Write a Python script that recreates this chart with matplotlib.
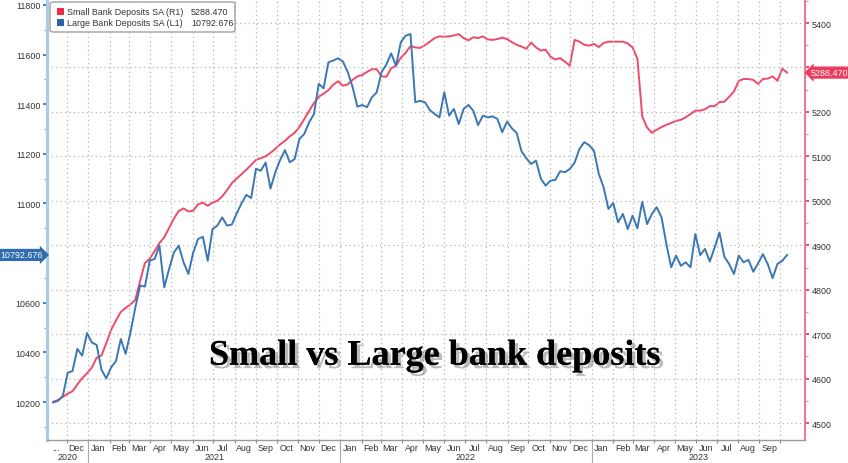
import matplotlib
matplotlib.use('Agg')
import matplotlib.pyplot as plt
import matplotlib.dates as mdates
import matplotlib.patheffects as pe
from matplotlib.patches import FancyBboxPatch, Rectangle
from matplotlib.ticker import FixedLocator, NullFormatter, MultipleLocator
from matplotlib.transforms import blended_transform_factory
import pandas as pd

# ---------------- data ----------------
start_date = '2020-11-11'   # weekly (Wednesday) observations

large_bank = [
    10198, 10205, 10225, 10318, 10325, 10414, 10387, 10478, 10440, 10430,
    10330, 10295, 10340, 10365, 10454, 10394, 10480, 10580, 10670, 10665,
    10770, 10776, 10830, 10662, 10736, 10803, 10830, 10763, 10716, 10803,
    10857, 10866, 10769, 10897, 10911, 10944, 10911, 10915, 10960, 11000,
    11035, 11022, 11140, 11132, 11165, 11060, 11126, 11175, 11215, 11166,
    11179, 11260, 11280, 11327, 11360, 11482, 11464, 11569, 11576, 11585,
    11572, 11530, 11470, 11390, 11397, 11388, 11428, 11448, 11529, 11560,
    11605, 11555, 11650, 11676, 11683, 11408, 11414, 11408, 11376, 11361,
    11347, 11448, 11354, 11381, 11320, 11381, 11397, 11374, 11316, 11354,
    11347, 11351, 11341, 11287, 11330, 11303, 11284, 11210, 11182, 11159,
    11173, 11100, 11072, 11092, 11095, 11130, 11126, 11139, 11165, 11220,
    11247, 11235, 11213, 11120, 11065, 10978, 11002, 10924, 10958, 10897,
    10951, 10900, 11007, 10917, 10958, 10985, 10944, 10837, 10743, 10790,
    10749, 10763, 10743, 10877, 10792, 10817, 10766, 10823, 10883, 10786,
    10756, 10716, 10790, 10763, 10773, 10725, 10759, 10796, 10756, 10699,
    10756, 10769, 10792.676,
]

small_bank = [
    4548, 4552, 4559, 4566, 4572, 4587, 4601, 4612, 4625, 4647,
    4652, 4680, 4710, 4731, 4750, 4759, 4767, 4777, 4820, 4860,
    4870, 4887, 4905, 4918, 4939, 4960, 4977, 4983, 4976, 4978,
    4992, 4996, 4989, 4996, 5000, 5010, 5024, 5040, 5050, 5060,
    5070, 5081, 5092, 5096, 5100, 5108, 5117, 5127, 5135, 5145,
    5153, 5166, 5184, 5202, 5220, 5234, 5241, 5249, 5261, 5269,
    5259, 5262, 5272, 5280, 5283, 5290, 5296, 5296, 5280, 5279,
    5298, 5304, 5322, 5333, 5348, 5345, 5344, 5350, 5358, 5366,
    5370, 5369, 5370, 5372, 5375, 5366, 5361, 5368, 5366, 5370,
    5363, 5362, 5364, 5367, 5364, 5357, 5351, 5347, 5342, 5356,
    5345, 5338, 5340, 5324, 5318, 5321, 5313, 5304, 5362, 5358,
    5351, 5349, 5353, 5346, 5355, 5358, 5358, 5358, 5358, 5354,
    5345, 5320, 5190, 5165, 5153, 5160, 5166, 5171, 5175, 5180,
    5182, 5188, 5195, 5203, 5203, 5206, 5213, 5213, 5222, 5223,
    5234, 5246, 5270, 5274, 5274, 5272, 5263, 5274, 5275, 5280,
    5270, 5297, 5288.47,
]

small_label = 'Small Bank Deposits SA (R1)'
large_label = 'Large Bank Deposits SA (L1)'
small_last = '5288.470'
large_last = '10792.676'
title_text = 'Small vs Large bank deposits'

month_labels = ['...', 'Dec',
                'Jan', 'Feb', 'Mar', 'Apr', 'May', 'Jun', 'Jul', 'Aug', 'Sep', 'Oct', 'Nov', 'Dec',
                'Jan', 'Feb', 'Mar', 'Apr', 'May', 'Jun', 'Jul', 'Aug', 'Sep', 'Oct', 'Nov', 'Dec',
                'Jan', 'Feb', 'Mar', 'Apr', 'May', 'Jun', 'Jul', 'Aug', 'Sep']
year_labels = ['2020', '2021', '2022', '2023']
left_ticks = [10200, 10400, 10600, 10800, 11000, 11200, 11400, 11600, 11800]
left_ticklabels = ['10200', '10400', '10600', '', '11000', '11200', '11400', '11600', '11800']
right_ticks = [4500, 4600, 4700, 4800, 4900, 5000, 5100, 5200, 5300, 5400]
right_ticklabels = ['4500', '4600', '4700', '4800', '4900', '5000', '5100', '5200', '', '5400']

# ---------------- styling ----------------
RED = '#ef4a68'
BLUE = '#3b78b3'
FONT = 'Liberation Sans'
FS = 6.4
plt.rcParams['font.family'] = [FONT, 'DejaVu Sans']

dates = pd.date_range(start_date, periods=len(large_bank), freq='7D')
x_left = pd.Timestamp('2020-11-02')
x_right = pd.Timestamp('2023-11-06')

W, H = 848, 464
fig = plt.figure(figsize=(W / 100, H / 100), dpi=100)
fig.patch.set_facecolor('white')
ax = fig.add_axes([47 / W, 1 - 441 / H, (805 - 47) / W, 441 / H])
ax2 = ax.twinx()
ax.set_zorder(ax2.get_zorder() + 1)
ax.patch.set_visible(False)
ax2.patch.set_visible(True)
ax2.patch.set_facecolor('white')

ax.plot(dates, large_bank, color=BLUE, lw=1.4, zorder=3)
ax2.plot(dates, small_bank, color=RED, lw=1.4, zorder=3)

ax.set_xlim(x_left, x_right)
ax.set_ylim(10047, 11824)
ax2.set_ylim(4462, 5454)

# y axes
ax.set_yticks(left_ticks)
ax.set_yticklabels(left_ticklabels)
ax.yaxis.set_minor_locator(MultipleLocator(100))
ax.tick_params(axis='y', which='major', length=3, width=1.2, color='#2e6aa8',
               labelsize=FS, labelcolor='#333333', pad=1.5, direction='out')
ax.tick_params(axis='y', which='minor', length=2, width=0.8, color='#7aa6d0', direction='out')

ax2.set_yticks(right_ticks)
ax2.set_yticklabels(right_ticklabels)
ax2.yaxis.set_minor_locator(MultipleLocator(50))
ax2.tick_params(axis='y', which='major', length=3, width=1.2, color='#e8305a',
                labelsize=FS, labelcolor='#333333', pad=1.5, direction='out')
ax2.tick_params(axis='y', which='minor', length=2, width=0.8, color='#f08aa0', direction='out')
ax2.grid(axis='y', which='major', ls=(0, (1, 2.5)), color='#b5b5b5', lw=0.9)

# spines
for s in ['top', 'right']:
    ax.spines[s].set_visible(False)
for s in ['top', 'left', 'bottom']:
    ax2.spines[s].set_visible(False)
ax.spines['left'].set_color('#a9cbe9')
ax.spines['left'].set_linewidth(2.2)
ax.spines['bottom'].set_color('#9a9a9a')
ax.spines['bottom'].set_linewidth(1.0)
ax2.spines['right'].set_color('#f07890')
ax2.spines['right'].set_linewidth(1.5)

# x axis: month boundaries as ticks/grid, month names at mid-month
month_starts = pd.date_range('2020-12-01', '2023-10-01', freq='MS')
ax.xaxis.set_major_locator(FixedLocator(mdates.date2num(month_starts)))
ax.xaxis.set_major_formatter(NullFormatter())
label_pos = pd.date_range('2020-11-01', periods=len(month_labels), freq='MS') + pd.Timedelta(days=14)
ax.set_xticks(mdates.date2num(label_pos), minor=True)
ax.set_xticklabels(month_labels, minor=True)
ax.tick_params(axis='x', which='major', length=2.5, width=0.8, color='#888888', direction='out')
ax.tick_params(axis='x', which='minor', length=0, labelsize=FS, labelcolor='#333333', pad=2.5)
ax.grid(axis='x', which='major', ls=(0, (1, 2.5)), color='#b5b5b5', lw=0.9)

# year row and separators
bt = blended_transform_factory(ax.transData, ax.transAxes)
bf = blended_transform_factory(ax.transData, fig.transFigure)
year_bounds = [x_left] + [pd.Timestamp(f'{y}-01-01') for y in (2021, 2022, 2023)] + [x_right]
for i, lab in enumerate(year_labels):
    a = mdates.date2num(year_bounds[i])
    b = mdates.date2num(year_bounds[i + 1])
    ax.text((a + b) / 2, 1.5 / H, lab, transform=bf, ha='center', va='bottom',
            fontsize=FS, color='#333333')
for yb in year_bounds[1:-1]:
    xv = mdates.date2num(yb)
    ax.plot([xv, xv], [0, -0.06], transform=bt, color='#aaaaaa', lw=0.8, clip_on=False)

# last-value tags
bl = blended_transform_factory(ax.transAxes, ax.transData)
ax.text(-0.006, large_bank[-1], large_last, transform=bl, ha='right', va='center',
        fontsize=FS, color='white', clip_on=False, zorder=10,
        bbox=dict(boxstyle='rarrow,pad=0.18', fc='#2f6db0', ec='none'))
br = blended_transform_factory(ax2.transAxes, ax2.transData)
ax2.text(1.008, small_bank[-1], small_last, transform=br, ha='left', va='center',
         fontsize=FS, color='white', clip_on=False, zorder=10,
         bbox=dict(boxstyle='larrow,pad=0.18', fc='#ee3a5c', ec='none'))

# legend (manual, Bloomberg-style)
tf = fig.transFigure
leg = FancyBboxPatch((50 / W, 1 - 33 / H), 185 / W, 30 / H,
                     boxstyle='round,pad=0,rounding_size=0.004', transform=tf,
                     fc='white', ec='#a0a0a0', lw=1.0, zorder=20)
fig.patches.append(leg)
for yc, col, lab, val in [(12.5, '#f0284a', small_label, small_last),
                          (23.5, '#2a64a8', large_label, large_last)]:
    fig.patches.append(Rectangle((57 / W, 1 - (yc + 3.5) / H), 6.5 / W, 7 / H,
                                 transform=tf, fc=col, ec='none', zorder=21))
    fig.text(67 / W, 1 - yc / H, lab, fontsize=FS, color='#333333', va='center', ha='left', zorder=22)
    fig.text(191 / W, 1 - yc / H, val, fontsize=FS, color='#333333', va='center', ha='left', zorder=22)

# big title with shadow
ax.text(0.512, 0.19, title_text, transform=ax.transAxes, ha='center', va='center',
        fontsize=26, fontweight='bold', family=['Liberation Serif', 'DejaVu Serif'],
        color='black', zorder=15,
        path_effects=[pe.withSimplePatchShadow(offset=(2.5, -2.5), shadow_rgbFace='#555555', alpha=0.4),
                      pe.Normal()])

fig.savefig('out.png', dpi=100, facecolor='white')
